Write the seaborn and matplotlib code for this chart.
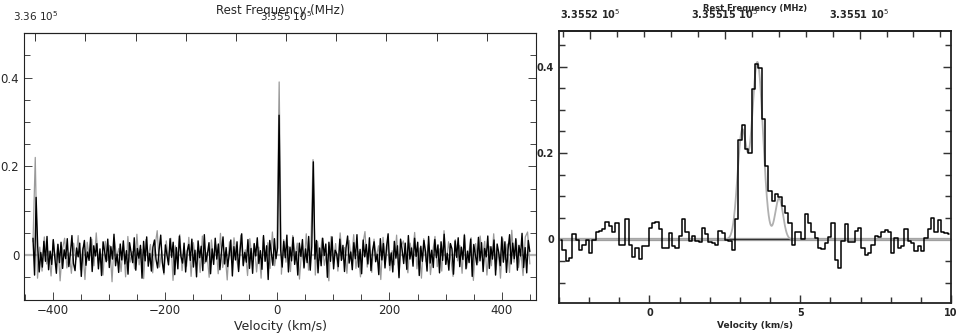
import numpy as np
import pandas as pd
import seaborn as sns
import matplotlib
matplotlib.use('Agg')
import matplotlib.pyplot as plt
from matplotlib.ticker import MultipleLocator, FixedLocator, FuncFormatter

sns.set_style('ticks')
plt.rcParams['font.family'] = ['DejaVu Sans']

C_KMS = 299792.458
F_REST = 335517.8  # MHz

# wide band spectrum, channel values in mK
wide_vmin, wide_vmax = -435, 450
wide_black = [
    38, -45, 130, 20, -38, 6, -27, 31, -14, 42, -33, 9, -21, 35, -6, -41, 24, -17, 29, -30,
    12, -8, 37, -26, 3, 44, -19, -35, 16, -4, 27, -48, 11, 33, -23, 7, -12, 40, -37, 21,
    -2, 26, -31, 14, -46, 30, 8, -15, 36, -28, 19, -9, 47, -24, 2, -39, 25, -11, 32, -20,
    10, -43, 28, 5, -17, 39, -34, 15, -7, 22, -52, 31, -13, 41, -25, 4, -36, 18, 34, -10,
    -29, 13, 45, -16, -40, 23, 1, -22, 37, -5, 29, -44, 17, -31, 43, -3, -18, 27, -38, 9,
    24, -12, 36, -27, 11, -49, 32, -6, 20, -35, 46, -15, 3, 28, -42, 14, -21, 38, -9, 25,
    -33, 7, 41, -20, 17, -26, 2, 34, -47, 19, -11, 30, -37, 12, 48, -24, 6, -16, 35, -30,
    15, -41, 26, -2, 39, -19, 10, -32, 44, -14, 21, -55, 33, 4, -23, 37, -8, 16, 315, 12,
    -27, 31, -6, 45, -38, 18, -13, 40, -21, 8, -45, 27, -3, 35, -29, 14, -17, 42, -34, 20,
    210, -9, 33, -40, 16, -24, 38, -1, 25, -50, 29, -14, 41, -31, 11, 3, -26, 36, -12, 22,
    -37, 17, 43, -18, 7, -33, 28, -8, 46, -27, 13, -42, 34, -4, 24, -20, 39, -35, 10, 30,
    -15, 2, -44, 37, -11, 26, -29, 19, 48, -23, 5, -38, 31, -7, 21, -51, 36, 12, -19, 27,
    -32, 44, -9, 16, -25, 38, -3, 29, -46, 20, -14, 33, 8, -36, 42, -18, 11, -28, 35, -6,
    23, -40, 30, -12, 47, -21, 4, -34, 26, 14, -43, 32, -5, 39, -26, 18, -10, 45, -31, 9,
    -17, 36, -48, 24, 1, -22, 40, -13, 28, -37, 15, -4, 43, -30, 19, -9, 34, -45, 25, 6,
    -24, 41, -16, 30, -39, 12, 46, -20, 27, -8, 37, -34, 22, -2, 49, -28, 17, -40, 33, 8,
]
wide_grey = [
    30, 220, -52, 18, -36, 41, -20, 9, -47, 33, -14, 25, -58, 12, 38, -29, 5, -41, 27, -10,
    44, -33, 16, -55, 29, -7, 36, -24, 50, -18, 3, -45, 31, -12, 22, -60, 39, -3, 15, -37,
    26, -49, 42, -16, 8, -31, 47, -22, 13, -53, 35, -6, 24, -40, 19, 55, -27, 10, -44, 32,
    -15, 38, -57, 21, -2, 46, -35, 14, -25, 40, -48, 28, -9, 17, -39, 43, -19, 6, -50, 34,
    -11, 23, -42, 49, -28, 7, -56, 30, -17, 39, -4, -33, 45, -21, 12, -46, 37, -8, 25, -38,
    18, -52, 41, -13, 28, -30, 52, -24, 9, 390, -43, 35, -16, 20, -37, 44, -6, 27, -54, 15,
    -26, 48, -34, 11, 215, -45, 31, -12, 38, -23, 4, -58, 42, -19, 26, -36, 50, -9, 17, -41,
    33, -14, 46, -30, 8, -49, 24, 53, -27, 13, -39, 36, -5, 21, -55, 40, -18, 29, -35, 10,
    -22, 45, -47, 19, 32, -11, -40, 27, -3, 51, -31, 16, -52, 37, -15, 23, -44, 9, 42, -26,
    14, -36, 55, -20, 30, -8, -48, 35, -13, 22, -41, 47, -29, 6, 39, -57, 26, -17, 43, -6,
    31, -45, 20, -24, 48, -33, 12, -52, 37, -10, 25, -39, 56, -16, 34, -28, 8, -46, 41, 52, -20,
]

# zoom on the line, K per channel
zoom_vmin, zoom_vmax = -3, 10
zoom_flux = [
    -0.002, -0.024, -0.050, -0.043, 0.013, -0.002, -0.025, -0.012, -0.002, -0.031,
    -0.002, 0.018, 0.019, 0.023, 0.040, 0.031, 0.017, 0.037, -0.014, -0.014,
    0.047, -0.014, -0.040, -0.019, -0.046, -0.015, -0.015, 0.026, 0.037, 0.040,
    0.025, -0.019, -0.019, 0.015, -0.015, -0.019, 0.008, 0.047, 0.017, -0.004,
    0.008, -0.004, -0.006, 0.026, 0.013, -0.005, -0.009, -0.014, 0.019, 0.015,
    -0.002, -0.004, -0.024,
    0.047, 0.229, 0.265, 0.209, 0.200, 0.349, 0.405, 0.396, 0.279, 0.170,
    0.112, 0.089, 0.105, 0.097, 0.078, 0.062, 0.039, -0.012, 0.016, 0.016,
    0.000, 0.058, 0.039, 0.017, 0.002,
    -0.019, -0.023, -0.008, 0.006, 0.039, -0.047, -0.066, -0.004, 0.036, -0.006,
    -0.006, 0.019, 0.026, -0.019, -0.037, -0.031, -0.012, 0.008, 0.006, 0.016,
    0.022, 0.017, -0.031, 0.004, -0.019, -0.016, 0.025, -0.004, -0.008, -0.027,
    -0.016, -0.027, 0.002, 0.023, 0.050, 0.016, 0.045, 0.017, 0.014, 0.012,
]

# gaussian fit components
fit_amp = [0.245, 0.41, 0.095]
fit_cen = [3.07, 3.58, 4.30]
fit_sig = [0.15, 0.185, 0.13]


def v2f(v):
    return F_REST * (1 - np.asarray(v, dtype=float) / C_KMS)


def f2v(f):
    return C_KMS * (1 - np.asarray(f, dtype=float) / F_REST)


df_black = pd.DataFrame({'v': np.linspace(wide_vmin, wide_vmax, len(wide_black)),
                         'T': np.array(wide_black) / 1000.0})
df_grey = pd.DataFrame({'v': np.linspace(wide_vmin, wide_vmax, len(wide_grey)),
                        'T': np.array(wide_grey) / 1000.0})

edges = np.linspace(zoom_vmin, zoom_vmax, len(zoom_flux) + 1)
df_zoom = pd.DataFrame({'v': 0.5 * (edges[:-1] + edges[1:]), 'T': zoom_flux})
vfit = np.linspace(zoom_vmin, zoom_vmax, 1500)
tfit = sum(a * np.exp(-0.5 * ((vfit - c) / s) ** 2) for a, c, s in zip(fit_amp, fit_cen, fit_sig))
df_fit = pd.DataFrame({'v': vfit, 'T': tfit})

fig = plt.figure(figsize=(9.57, 3.33), dpi=100)
ax1 = fig.add_axes([0.0251, 0.1006, 0.535, 0.800])
ax2 = fig.add_axes([0.5841, 0.0892, 0.4096, 0.8186])

# left panel: full band
ax1.axhline(0, color='#b4b4b4', lw=1.6, zorder=1)
sns.lineplot(data=df_grey, x='v', y='T', ax=ax1, color='#9a9a9a', lw=0.9, estimator=None)
sns.lineplot(data=df_black, x='v', y='T', ax=ax1, color='black', lw=1.0, estimator=None)
ax1.set_xlim(-451, 461)
ax1.set_ylim(-0.1, 0.5)

# right panel: the line with its fit
ax2.axhline(0, color='#b4b4b4', lw=2.4, zorder=1)
ax2.axhline(0, color='#333333', lw=1.0, zorder=2)
sns.lineplot(data=df_fit, x='v', y='T', ax=ax2, color='#b0b0b0', lw=1.3, estimator=None)
sns.lineplot(data=df_zoom, x='v', y='T', ax=ax2, color='black', lw=1.1,
             estimator=None, drawstyle='steps-mid')
ax2.set_xlim(zoom_vmin, zoom_vmax)
ax2.set_ylim(-0.148, 0.483)

yfmt = FuncFormatter(lambda y, p: f'{y:g}')
ffmt = FuncFormatter(lambda f, p: f'{f / 1e5:g} 10$^5$')

for ax, xmaj, xmin, fs, xl_fs, fw, lw in [(ax1, 200, 50, 8.5, 9, 'normal', 0.8),
                                          (ax2, 5, 1, 7, 6.5, 'bold', 1.3)]:
    ax.xaxis.set_major_locator(MultipleLocator(xmaj))
    ax.xaxis.set_minor_locator(MultipleLocator(xmin))
    ax.yaxis.set_major_locator(MultipleLocator(0.2))
    ax.yaxis.set_minor_locator(MultipleLocator(0.05))
    ax.yaxis.set_major_formatter(yfmt)
    ax.tick_params(which='both', direction='in', right=True, top=False,
                   labelsize=fs, width=lw * 0.8, color='#333333')
    ax.tick_params(which='major', length=6)
    ax.tick_params(which='minor', length=4)
    for lab in ax.get_xticklabels() + ax.get_yticklabels():
        lab.set_fontweight(fw)
    for sp in ax.spines.values():
        sp.set_linewidth(lw)
        sp.set_color('#222222')
    ax.set_xlabel('Velocity (km/s)', fontsize=xl_fs, fontweight=fw, labelpad=2)
    ax.set_ylabel('')

sec1 = ax1.secondary_xaxis('top', functions=(v2f, f2v))
sec1.xaxis.set_major_locator(FixedLocator([336000, 335500]))
sec1.xaxis.set_minor_locator(MultipleLocator(100))
sec1.xaxis.set_major_formatter(ffmt)
sec1.tick_params(which='both', direction='in', labelsize=7.5, width=0.7, color='#333333')
sec1.tick_params(which='major', length=6, pad=7)
sec1.tick_params(which='minor', length=6)
sec1.spines['top'].set_linewidth(0.8)
sec1.set_xlabel('Rest Frequency (MHz)', fontsize=8.5, labelpad=-3)

sec2 = ax2.secondary_xaxis('top', functions=(v2f, f2v))
sec2.xaxis.set_major_locator(FixedLocator([335520, 335515, 335510]))
sec2.xaxis.set_minor_locator(MultipleLocator(1))
sec2.xaxis.set_major_formatter(ffmt)
sec2.tick_params(which='both', direction='in', labelsize=7, width=1.0, color='#333333')
sec2.tick_params(which='major', length=6, pad=7)
sec2.tick_params(which='minor', length=4)
for lab in sec2.get_xticklabels():
    lab.set_fontweight('bold')
sec2.spines['top'].set_linewidth(1.3)
sec2.set_xlabel('Rest Frequency (MHz)', fontsize=6, fontweight='bold', labelpad=-3)

fig.savefig('out.png', dpi=100)
